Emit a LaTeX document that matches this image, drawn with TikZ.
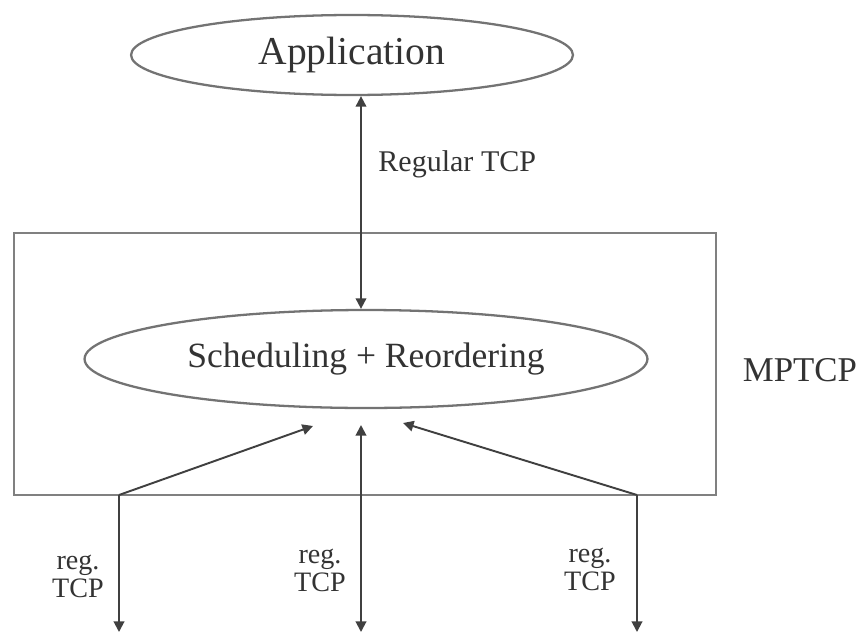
\documentclass[tikz,border=0pt]{standalone}
\usepackage{fontspec}
\setmainfont{Liberation Serif}
\usepackage{tikz}
\usetikzlibrary{shapes.geometric,arrows.meta}

\tikzset{
  blob/.style={ellipse, draw=black!55, line width=1.3pt, inner sep=0pt, text=black!80},
  link/.style={draw=black!75, line width=1.1pt},
  tip/.style={-{Triangle[length=6pt,width=6pt]}},
  twotip/.style={{Triangle[length=6pt,width=6pt]}-{Triangle[length=6pt,width=6pt]}},
  sublabel/.style={align=center, text=black!80, font=\fontsize{16}{16}\selectfont}
}

\begin{document}
\begin{tikzpicture}[x=0.02cm, y=-0.02cm]
    \useasboundingbox (0, 0) rectangle (861, 635);

    \node [blob, minimum width=8.84cm, minimum height=1.6cm,
      font=\fontsize{22.5}{24}\selectfont] (app) at (352, 55) {Application};
    \node [draw=black!50, line width=1.6pt, minimum width=14.04cm,
      minimum height=5.24cm] (mptcpbox) at (365, 364) {};
    \node [blob, minimum width=11.26cm, minimum height=1.96cm,
      font=\fontsize{20.2}{22}\selectfont] (sched) at (366, 359) {Scheduling + Reordering};
    \node [text=black!80, font=\fontsize{19.8}{21}\selectfont] (mptcp) at (800, 370) {MPTCP};

    \coordinate (mid) at (361, 0);
    \coordinate (lcorner) at (119, 495);
    \coordinate (rcorner) at (637, 495);
    \coordinate (lin) at (313, 426);
    \coordinate (min) at (361, 425);
    \coordinate (rin) at (403, 423);
    \coordinate (lout) at (119, 632);
    \coordinate (mout) at (361, 632);
    \coordinate (rout) at (637, 632);

    \draw [link, twotip] (app.south -| mid) -- (sched.north -| mid)
      node [pos=0.32, right=6pt, text=black!80, font=\fontsize{17.1}{18}\selectfont] (regtcp) {Regular TCP};

    \draw [link, tip] (lcorner) -- (lin);
    \draw [link, tip] (lcorner) -- (lout);
    \draw [link, twotip] (min) -- (mout);
    \draw [link, tip] (rcorner) -- (rin);
    \draw [link, tip] (rcorner) -- (rout);

    \node [sublabel] (lreg) at (78, 576) {reg.\\TCP};
    \node [sublabel] (mreg) at (320, 570) {reg.\\TCP};
    \node [sublabel] (rreg) at (590, 569) {reg.\\TCP};
  \end{tikzpicture}
\end{document}
